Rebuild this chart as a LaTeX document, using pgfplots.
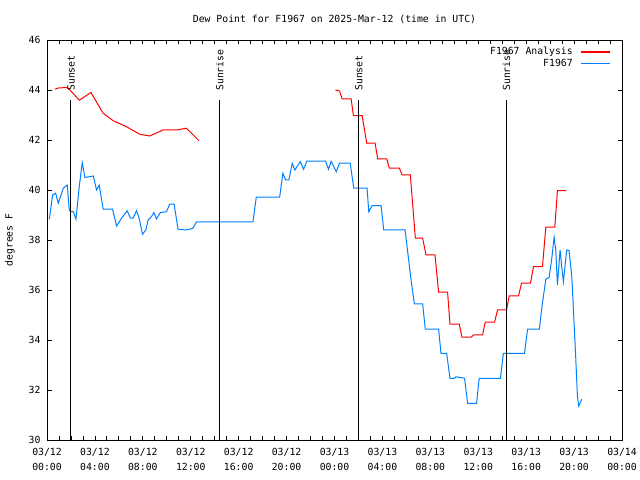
\documentclass[border=0pt]{standalone}
\usepackage{pgfplots}
\pgfplotsset{compat=1.18}
\usepackage{fontspec}
\setmainfont{DejaVu Sans Mono}
\definecolor{anared}{RGB}{255,0,0}
\definecolor{obsblue}{RGB}{0,128,255}
\newcommand{\gfont}{\fontsize{9.8bp}{15bp}\selectfont}
\begin{document}
\begin{tikzpicture}
\path[use as bounding box] (-47bp,-40bp) rectangle (593bp,440bp);
\begin{axis}[
  at={(0,0)}, anchor=south west,
  scale only axis, width=575bp, height=400bp,
  xmin=0, xmax=48, ymin=30, ymax=46,
  xtick={0,4,...,48}, minor x tick num=3,
  ytick={30,32,...,46},
  xticklabels={{03/12\\00:00},{03/12\\04:00},{03/12\\08:00},{03/12\\12:00},{03/12\\16:00},{03/12\\20:00},{03/13\\00:00},{03/13\\04:00},{03/13\\08:00},{03/13\\12:00},{03/13\\16:00},{03/13\\20:00},{03/14\\00:00}},
  xticklabel style={align=center, font=\gfont, yshift=-5bp},
  yticklabel style={font=\gfont, xshift=-3bp},
  /pgf/number format/assume math mode=true,
  major tick length=4.5bp, minor tick length=4.5bp,
  tick style={black, line width=0.8bp},
  axis line style={line width=0.8bp},
  title={Dew Point for F1967 on 2025-Mar-12 (time in UTC)},
  title style={font=\gfont, at={(axis description cs:0.5,1)}, anchor=center, yshift=15bp},
  ylabel={degrees F},
  ylabel style={font=\gfont, at={(axis description cs:-0.0643,0.5)}, anchor=center, rotate=0},
  legend style={at={(axis description cs:1,1)}, anchor=north east, xshift=-8bp, yshift=-4bp,
    draw=none, fill=none, font=\gfont, nodes={inner sep=1bp, text height=7.5bp, text depth=2bp}},
  legend cell align=right, legend plot pos=right,
  legend image code/.code={\path (0bp,0bp); \draw[#1, line width=1.2bp] (7bp,0bp) -- (36bp,0bp);},
]
\addplot[anared, line width=1bp] coordinates {
(0.67,44.03)(0.94,44.08)(1.64,44.1)(1.92,44.0)(2.69,43.59)(3.67,43.9)(4.69,43.07)(5.53,42.77)(6.64,42.53)(7.75,42.23)(8.58,42.16)(9.69,42.4)(10.8,42.4)(11.64,42.47)(12.69,41.97)
};
\addlegendentry{F1967 Analysis}
\addplot[obsblue, line width=1bp] coordinates {
(0.19,38.83)(0.47,39.8)(0.72,39.87)(0.94,39.47)(1.36,40.07)(1.69,40.2)(1.86,39.2)(1.97,39.13)(2.19,39.13)(2.42,38.83)(2.69,40.13)(2.94,41.09)(3.17,40.5)(3.86,40.56)(4.14,40.0)(4.36,40.2)(4.69,39.23)(5.47,39.23)(5.81,38.56)(6.22,38.87)(6.69,39.17)(6.97,38.87)(7.19,38.87)(7.47,39.17)(7.69,38.87)(7.97,38.23)(8.25,38.4)(8.44,38.8)(8.72,38.93)(8.92,39.1)(9.14,38.84)(9.47,39.1)(9.97,39.13)(10.25,39.43)(10.61,39.43)(10.94,38.43)(11.64,38.4)(12.19,38.47)(12.47,38.72)(12.89,38.72)(17.19,38.72)(17.47,39.71)(19.42,39.71)(19.69,40.67)(19.92,40.4)(20.19,40.4)(20.47,41.07)(20.69,40.8)(21.14,41.13)(21.42,40.83)(21.69,41.15)(23.25,41.15)(23.5,40.83)(23.72,41.15)(24.14,40.73)(24.42,41.07)(25.31,41.07)(25.61,40.07)(26.72,40.07)(26.86,39.13)(27.14,39.37)(27.89,39.37)(28.11,38.4)(29.89,38.4)(30.39,36.4)(30.67,35.44)(31.36,35.44)(31.58,34.43)(32.69,34.43)(32.89,33.47)(33.36,33.47)(33.64,32.47)(34.0,32.47)(34.14,32.53)(34.86,32.47)(35.11,31.47)(35.86,31.47)(36.08,32.47)(37.85,32.47)(38.1,33.47)(39.86,33.47)(40.12,34.43)(41.1,34.43)(41.31,35.31)(41.64,36.43)(41.92,36.51)(42.14,37.27)(42.33,38.11)(42.47,37.6)(42.61,36.2)(42.83,37.6)(42.97,36.93)(43.11,36.33)(43.25,37.0)(43.39,37.6)(43.58,37.58)(43.81,36.53)(44.0,34.67)(44.14,33.27)(44.28,31.73)(44.39,31.36)(44.64,31.63)
};
\addlegendentry{F1967}
\addplot[anared, line width=1bp, forget plot] coordinates {
(24.08,44.0)(24.42,43.96)(24.64,43.64)(25.39,43.64)(25.58,42.97)(26.31,42.97)(26.69,41.87)(27.39,41.87)(27.61,41.24)(28.36,41.24)(28.58,40.87)(29.42,40.87)(29.64,40.6)(30.33,40.6)(30.75,38.07)(31.36,38.07)(31.64,37.4)(32.39,37.4)(32.69,35.91)(33.44,35.91)(33.64,34.63)(34.42,34.63)(34.64,34.11)(35.39,34.11)(35.61,34.2)(36.36,34.2)(36.58,34.71)(37.36,34.71)(37.61,35.2)(38.36,35.2)(38.58,35.76)(39.36,35.76)(39.61,36.27)(40.36,36.27)(40.61,36.93)(41.36,36.93)(41.64,38.51)(42.39,38.51)(42.61,39.97)(43.36,39.97)
};
\addplot[black, line width=1bp, forget plot] coordinates {(2.0,30)(2.0,43.6)};
\addplot[black, line width=1bp, forget plot] coordinates {(14.42,30)(14.42,43.6)};
\addplot[black, line width=1bp, forget plot] coordinates {(26.02,30)(26.02,43.6)};
\addplot[black, line width=1bp, forget plot] coordinates {(38.35,30)(38.35,43.6)};
\node[rotate=90, anchor=west, font=\gfont, inner sep=0pt, xshift=1bp] at (axis cs:2.0,43.92) {Sunset};
\node[rotate=90, anchor=west, font=\gfont, inner sep=0pt, xshift=1bp] at (axis cs:14.42,43.92) {Sunrise};
\node[rotate=90, anchor=west, font=\gfont, inner sep=0pt, xshift=1bp] at (axis cs:26.02,43.92) {Sunset};
\node[rotate=90, anchor=west, font=\gfont, inner sep=0pt, xshift=1bp] at (axis cs:38.35,43.92) {Sunrise};
\end{axis}
\end{tikzpicture}
\end{document}
